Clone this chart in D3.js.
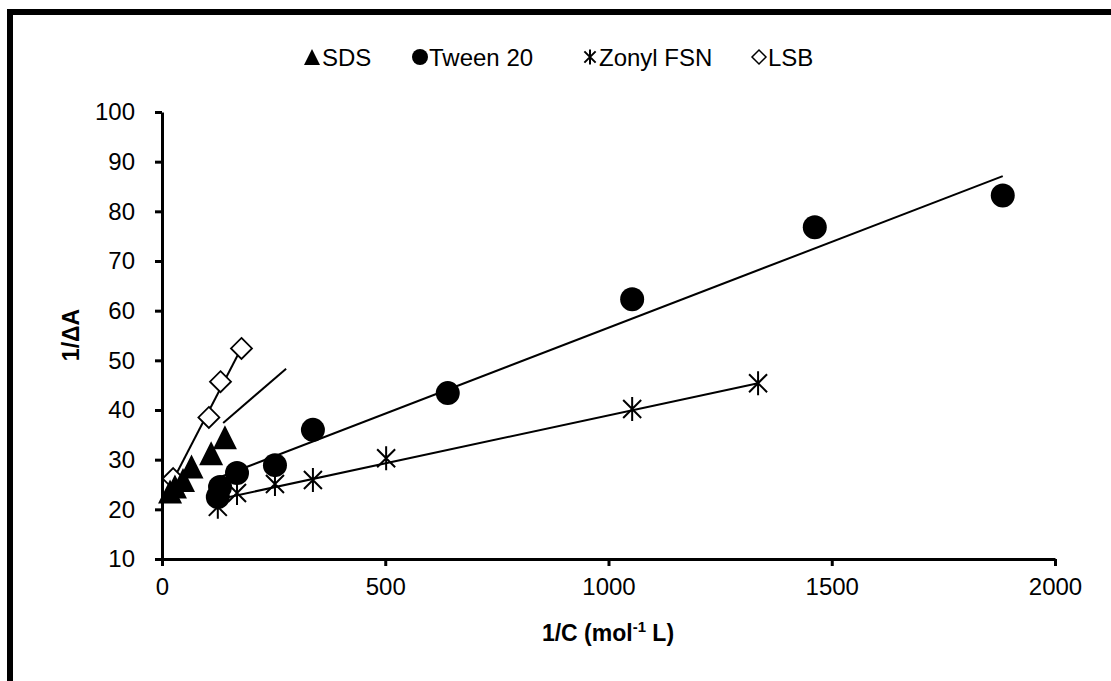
<!DOCTYPE html>
<html>
<head>
<meta charset="utf-8">
<script src="https://cdn.jsdelivr.net/npm/d3@7"></script>
<style>
    body { margin: 0; background: #fff; }
    svg text { font-family: "Liberation Sans", Arial, sans-serif; fill: #000; }
</style>
</head>
<body>
<div id="chart"></div>
<script>
// Data
const sdsX = [18, 29, 47, 66, 110, 141];
const sdsY = [23.6, 24.6, 25.9, 28.6, 31.3, 34.5];

const tweenX = [125, 130, 168, 253, 338, 640, 1053, 1462, 1883];
const tweenY = [22.5, 24.5, 27.3, 28.9, 36.0, 43.4, 62.3, 76.8, 83.2];

const zonylX = [125, 168, 253, 338, 502, 1053, 1335];
const zonylY = [20.5, 23.3, 25.1, 25.9, 30.3, 40.2, 45.4];

const lsbX = [25, 105, 131, 178];
const lsbY = [26.2, 38.5, 45.7, 52.4];

// trend line end points (x, y)
const sdsFitX = [137, 278], sdsFitY = [37.4, 48.3];
const tweenFitX = [125, 1883], tweenFitY = [26.3, 87.1];
const zonylFitX = [125, 1335], zonylFitY = [22.0, 45.4];
const lsbFitX = [25, 179], lsbFitY = [25.9, 52.7];

const xTicks = [0, 500, 1000, 1500, 2000];
const yTicks = [10, 20, 30, 40, 50, 60, 70, 80, 90, 100];
const seriesNames = ['SDS', 'Tween 20', 'Zonyl FSN', 'LSB'];

const width = 1111, height = 681;

const svg = d3.select('#chart')
    .append('svg')
    .attr('width', width)
    .attr('height', height);

// chart area border (runs off the right and bottom edges)
svg.append('rect')
    .attr('x', 10).attr('y', 12)
    .attr('width', 1300).attr('height', 900)
    .attr('fill', 'none')
    .attr('stroke', '#000')
    .attr('stroke-width', 6);

const x = d3.scaleLinear().domain([0, 2000]).range([162, 1055]);
const y = d3.scaleLinear().domain([10, 100]).range([559, 112]);

// Axes
const xAxis = d3.axisBottom(x).tickValues(xTicks).tickFormat(d3.format('d'))
    .tickSize(7).tickSizeOuter(0).tickPadding(12);
const yAxis = d3.axisLeft(y).tickValues(yTicks).tickFormat(d3.format('d'))
    .tickSize(7).tickSizeOuter(0).tickPadding(20);

const gx = svg.append('g')
    .attr('transform', `translate(0,${y(10)})`)
    .call(xAxis);
const gy = svg.append('g')
    .attr('transform', `translate(${x(0)},0)`)
    .call(yAxis);

[gx, gy].forEach(g => {
    g.select('.domain').attr('stroke', '#000').attr('stroke-width', 3);
    g.selectAll('.tick line').attr('stroke', '#000').attr('stroke-width', 3);
    g.selectAll('.tick text')
        .style('font-family', '"Liberation Sans", Arial, sans-serif')
        .style('font-size', '24px')
        .attr('fill', '#000');
});

// Axis titles
const xTitle = svg.append('text')
    .attr('x', 608)
    .attr('y', 641)
    .attr('text-anchor', 'middle')
    .style('font-size', '23px')
    .style('font-weight', 'bold');
xTitle.append('tspan').text('1/C (mol');
xTitle.append('tspan').attr('dy', -9).style('font-size', '15px').text('-1');
xTitle.append('tspan').attr('dy', 9).text(' L)');

svg.append('text')
    .attr('transform', 'translate(79,335) rotate(-90)')
    .attr('text-anchor', 'middle')
    .style('font-size', '23px')
    .style('font-weight', 'bold')
    .text('1/ΔA');

// Marker paths
function trianglePath(s) {
    const w = s * 0.5, h = s * 0.5;
    return `M0,${-h}L${w},${h}L${-w},${h}Z`;
}
function starPath(s) {
    const r = s / 2;
    const d = r * 0.75;
    return `M0,${-r}L0,${r}M${-d},${-d}L${d},${d}M${d},${-d}L${-d},${d}`;
}
function diamondPath(s) {
    const r = s / 2;
    return `M0,${-r}L${r},0L0,${r}L${-r},0Z`;
}

const plot = svg.append('g');

// Trend lines
const fits = [
    d3.zip(sdsFitX, sdsFitY),
    d3.zip(tweenFitX, tweenFitY),
    d3.zip(zonylFitX, zonylFitY),
    d3.zip(lsbFitX, lsbFitY)
];
const line = d3.line().x(d => x(d[0])).y(d => y(d[1]));
plot.selectAll('.fit')
    .data(fits)
    .enter()
    .append('path')
    .attr('class', 'fit')
    .attr('d', line)
    .attr('fill', 'none')
    .attr('stroke', '#000')
    .attr('stroke-width', 2);

// Zonyl FSN stars
plot.selectAll('.zonyl')
    .data(d3.zip(zonylX, zonylY))
    .enter()
    .append('path')
    .attr('class', 'zonyl')
    .attr('transform', d => `translate(${x(d[0])},${y(d[1])})`)
    .attr('d', starPath(24))
    .attr('fill', 'none')
    .attr('stroke', '#000')
    .attr('stroke-width', 2);

// Tween 20 circles
plot.selectAll('.tween')
    .data(d3.zip(tweenX, tweenY))
    .enter()
    .append('circle')
    .attr('class', 'tween')
    .attr('cx', d => x(d[0]))
    .attr('cy', d => y(d[1]))
    .attr('r', 12)
    .attr('fill', '#000');

// LSB diamonds
plot.selectAll('.lsb')
    .data(d3.zip(lsbX, lsbY))
    .enter()
    .append('path')
    .attr('class', 'lsb')
    .attr('transform', d => `translate(${x(d[0])},${y(d[1])})`)
    .attr('d', diamondPath(21))
    .attr('fill', '#fff')
    .attr('stroke', '#000')
    .attr('stroke-width', 1.8);

// SDS triangles
plot.selectAll('.sds')
    .data(d3.zip(sdsX, sdsY))
    .enter()
    .append('path')
    .attr('class', 'sds')
    .attr('transform', d => `translate(${x(d[0])},${y(d[1])})`)
    .attr('d', trianglePath(24))
    .attr('fill', '#000');

// Legend
const legendStarts = [304, 411, 581, 750];
const legend = svg.append('g').attr('class', 'legend');
const items = legend.selectAll('.legend-item')
    .data(seriesNames)
    .enter()
    .append('g')
    .attr('class', 'legend-item')
    .attr('transform', (d, i) => `translate(${legendStarts[i]},57)`);

items.each(function(d, i) {
    const g = d3.select(this);
    if (i === 0) {
        g.append('path').attr('transform', 'translate(8,0)').attr('d', trianglePath(16)).attr('fill', '#000');
    } else if (i === 1) {
        g.append('circle').attr('cx', 9).attr('r', 8).attr('fill', '#000');
    } else if (i === 2) {
        g.append('path').attr('transform', 'translate(9,0)').attr('d', starPath(15))
            .attr('fill', 'none').attr('stroke', '#000').attr('stroke-width', 2);
    } else {
        g.append('path').attr('transform', 'translate(9,0)').attr('d', diamondPath(14))
            .attr('fill', '#fff').attr('stroke', '#000').attr('stroke-width', 1.5);
    }
    g.append('text')
        .attr('x', 18)
        .attr('y', 8.5)
        .style('font-size', '24px')
        .text(d);
});
</script>
</body>
</html>
